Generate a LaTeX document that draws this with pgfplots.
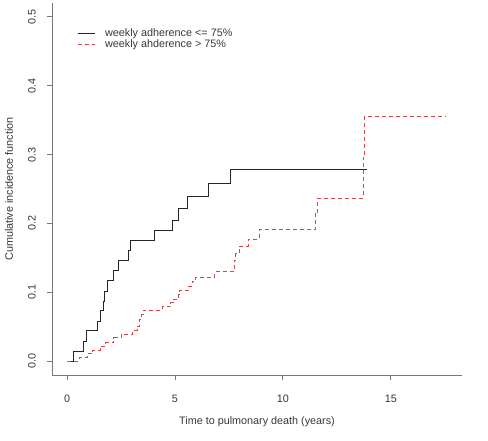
\documentclass[border=0pt]{standalone}
\usepackage{fontspec}
\setmainfont{Liberation Sans}
\usepackage{pgfplots}
\pgfplotsset{compat=1.18}
\definecolor{rline}{RGB}{205,75,75}
\definecolor{axgray}{RGB}{120,120,120}
\definecolor{txt}{RGB}{55,55,55}
\begin{document}
\begin{tikzpicture}
\useasboundingbox (-52pt,-65pt) rectangle (436pt,375pt);
\begin{axis}[
  scale only axis, width=410pt, height=372pt,
  xmin=-0.70, xmax=18.3, ymin=-0.02, ymax=0.52,
  axis x line*=bottom, axis y line*=left,
  axis line style={axgray, line width=0.8pt},
  tick style={axgray, line width=0.8pt},
  tick align=outside, major tick length=5pt,
  xtick={0,5,10,15}, ytick={0,0.1,0.2,0.3,0.4,0.5},
  /pgf/number format/assume math mode=true,
  font=\fontsize{10.8}{13}\selectfont,
  ticklabel style={font=\fontsize{10.8}{13}\selectfont, text=txt, inner sep=0pt},
  xticklabel style={anchor=north},
  xticklabel shift=15pt,
  yticklabel style={rotate=90, anchor=south, /pgf/number format/fixed, /pgf/number format/fixed zerofill, /pgf/number format/precision=1},
  yticklabel shift=11pt,
  xlabel={Time to pulmonary death (years)},
  ylabel={Cumulative incidence function},
  xlabel style={at={(axis description cs:0.5,-0.1255)}, anchor=center, text=txt},
  ylabel style={at={(axis description cs:-0.105,0.5)}, anchor=center, rotate=0, text=txt},
  legend style={draw=none, fill=none, at={(rel axis cs:0.061,0.933)}, anchor=north west,
    inner sep=0pt, font=\fontsize{10.8}{13}\selectfont, text=txt, row sep=1.6pt,
    nodes={inner sep=0pt, text height=8pt, text depth=2pt},
    /tikz/every odd column/.style={column sep=10pt}},
  legend cell align=left,
  legend image code/.code={\draw[#1] (0pt,0pt) -- (17pt,0pt);},
]
\addplot[const plot, black!85, line width=0.9pt] coordinates {
(0,0) (0.28,0.0147) (0.75,0.029) (0.88,0.044) (1.42,0.058) (1.55,0.073) (1.69,0.087) (1.74,0.102) (1.85,0.117) (2.16,0.132) (2.39,0.147) (2.82,0.161) (2.93,0.176) (4.06,0.190) (4.90,0.205) (5.15,0.222) (5.57,0.239) (6.53,0.258) (7.58,0.278) (13.9,0.278)
};
\addlegendentry{weekly adherence <= 75\%}
\addplot[const plot, rline, line width=0.9pt, dash pattern=on 4pt off 3pt] coordinates {
(0,0) (0.55,0.005) (0.92,0.011) (1.19,0.016) (1.53,0.022) (1.77,0.027) (2.16,0.034) (2.50,0.039) (3.05,0.045) (3.24,0.051) (3.36,0.061) (3.45,0.068) (3.52,0.074) (4.40,0.079) (4.79,0.085) (4.95,0.090) (5.18,0.097) (5.22,0.103) (5.64,0.109) (5.80,0.116) (5.95,0.122) (6.85,0.130) (7.74,0.146) (7.81,0.156) (7.97,0.167) (8.39,0.177) (8.90,0.191) (11.50,0.214) (11.61,0.237) (13.71,0.296) (13.78,0.356) (17.58,0.356)
};
\addlegendentry{weekly ahderence > 75\%}
\end{axis}
\end{tikzpicture}
\end{document}
